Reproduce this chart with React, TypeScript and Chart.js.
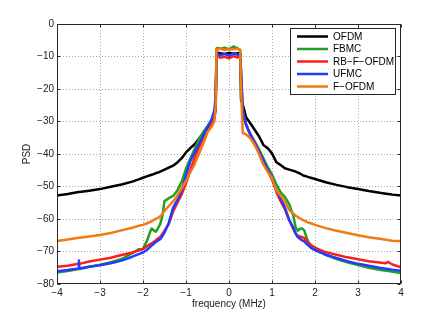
import React, { useEffect, useRef } from 'react';
import { Chart, registerables } from 'chart.js';

Chart.register(...registerables);

// frequency grid (MHz)
const freq = [
  -4, -3.75, -3.5, -3.49, -3.48, -3.25, -3, -2.75, -2.5, -2.25, -2.1, -2,
  -1.9, -1.85, -1.8, -1.75, -1.7, -1.65, -1.6, -1.55, -1.5, -1.4, -1.3, -1.2, -1.1,
  -1, -0.9, -0.8, -0.7, -0.6, -0.5, -0.4, -0.34, -0.31, -0.29,
  -0.27, -0.2, -0.1, 0, 0.1, 0.2, 0.24, 0.26, 0.28, 0.32,
  0.4, 0.5, 0.6, 0.7, 0.8, 0.9, 1, 1.1, 1.2, 1.3,
  1.4, 1.5, 1.55, 1.6, 1.65, 1.7, 1.75, 1.8, 1.85, 1.9, 2, 2.25,
  2.5, 2.75, 3, 3.25, 3.5, 3.65, 3.7, 3.75, 3.8, 4,
];

const ofdm = [
  -52.8, -52.3, -51.7, -51.7, -51.7, -51.3, -50.8, -50.1, -49.4, -48.5, -47.8, -47.3,
  -46.8, -46.6, -46.4, -46.2, -45.9, -45.7, -45.4, -45.1, -44.8, -44.2, -43.6, -42.6, -41.3,
  -39.5, -38.2, -37, -35.3, -33.6, -32.2, -30.5, -29, -26, -9,
  -8.8, -9, -9.2, -8.9, -9.1, -9, -8.9, -9, -23.5, -24.8,
  -28.8, -30.6, -32.6, -34.6, -37.2, -38.2, -39.8, -42.5, -43.4, -44.4,
  -44.8, -45.2, -45.4, -45.7, -46, -46.4, -46.7, -46.9, -47.1, -47.3, -47.7, -48.7,
  -49.5, -50.2, -50.8, -51.4, -51.9, -52.2, -52.3, -52.4, -52.5, -52.8,
];

const fbmc = [
  -76.5, -76, -75.4, -75.4, -75.4, -74.7, -74.1, -73.3, -72.3, -70.5, -69.3, -69.2,
  -66.5, -64.5, -62.9, -63.5, -63.9, -62.8, -61.6, -59.2, -54.5, -53.6, -52.9, -51.2, -48.5,
  -44.5, -41.5, -38.5, -35.5, -33.2, -31.5, -30.5, -27.5, -24, -7.5,
  -7.4, -7.6, -7.3, -7.8, -6.9, -7.5, -7.8, -8, -14, -27.5,
  -31, -34, -36.2, -38.6, -41.3, -44, -46.3, -49.3, -51.8, -53.2,
  -55.4, -59.2, -62.6, -63.6, -63, -62.9, -63.5, -65.6, -67.2, -68, -68.8, -71,
  -72.3, -73.3, -74.2, -75, -75.6, -75.9, -76, -76.1, -76.2, -76.6,
];

const rbFOfdm = [
  -74.7, -74.4, -73.8, -73.8, -73.8, -73.1, -72.5, -71.9, -71.1, -70.3, -69.7, -69.2,
  -68.3, -67.9, -67.5, -67, -66.5, -66, -65.5, -64.6, -63.6, -61.5, -57.7, -55, -52.4,
  -49, -45, -41.2, -38, -35.4, -33, -30.8, -28.5, -25, -9.8,
  -9.8, -10.4, -10.1, -10.6, -9.9, -10.3, -9.8, -10, -16, -26.5,
  -31.2, -34, -36.5, -39.4, -42.4, -45.2, -47.8, -51.6, -54.5, -57,
  -60.4, -63.2, -64.6, -65.1, -65.4, -65.6, -65.9, -66.6, -67.4, -68, -68.9, -70.2,
  -71, -71.8, -72.4, -73, -73.4, -73.6, -73.2, -73.6, -74, -74.9,
];

const ufmc = [
  -76.1, -75.7, -75.2, -72.8, -75.2, -74.7, -74.2, -73.6, -72.8, -71.6, -70.8, -70.3,
  -69.4, -68.8, -68.2, -67.6, -67.1, -66.6, -66.2, -65.3, -64.2, -61.2, -56.5, -54.2, -51.2,
  -46.5, -42.2, -39.5, -37, -34.4, -31.6, -29.2, -26.5, -22, -9.2,
  -9.3, -9.6, -9.2, -9.8, -9, -9.5, -9.4, -9.5, -15, -27,
  -31, -34.2, -36.8, -39.2, -42, -44.8, -47.4, -51.2, -53.6, -56.5,
  -60.3, -62.8, -64.4, -65.6, -66.1, -66.6, -66.9, -67.6, -68.2, -68.8, -69.6, -71,
  -72, -73, -73.8, -74.4, -75, -75.3, -75.4, -75.5, -75.6, -75.9,
];

const fOfdm = [
  -66.8, -66.3, -65.8, -65.8, -65.8, -65.4, -64.9, -64.3, -63.5, -62.7, -62.1, -61.8,
  -61.3, -61, -60.7, -60.3, -60, -59.6, -59.2, -58.5, -57.5, -56, -54.6, -52.8, -50.6,
  -48.3, -45.7, -43.1, -40, -36.8, -33.3, -31.5, -30, -25, -7.8,
  -7.8, -7.6, -8, -7.7, -7.8, -7.6, -7.8, -8, -20, -33.5,
  -34, -35.2, -37.3, -40.1, -43.3, -45.5, -47.4, -51.2, -52.8, -54.6,
  -57.2, -58.4, -59, -59.4, -59.8, -60.2, -60.5, -60.8, -61.1, -61.3, -61.8, -62.8,
  -63.6, -64.3, -65, -65.6, -66.1, -66.4, -66.5, -66.6, -66.7, -66.8,
];

const seriesLabels = ['OFDM', 'FBMC', 'RB\u2212F\u2212OFDM', 'UFMC', 'F\u2212OFDM'];
const seriesColors = ['#000000', '#22a022', '#ff1c1c', '#1f3cff', '#f27a12'];
const seriesValues = [ofdm, fbmc, rbFOfdm, ufmc, fOfdm];
const drawOrder = [4, 3, 2, 1, 0];

const xMin = -4;
const xMax = 4;
const yMin = -80;
const yMax = 0;
const xTitle = 'frequency (MHz)';
const yTitle = 'PSD';

const FONT = '"Liberation Sans", Arial, Helvetica, sans-serif';
const fmt = (v: number) => (v < 0 ? '\u2212' + Math.abs(v) : String(v));

const framePlugin = {
  id: 'matlabFrame',
  beforeDatasetsDraw(chart: any) {
    const { ctx, chartArea: a, scales } = chart;
    const xs = scales.x;
    const ys = scales.y;
    ctx.save();
    ctx.strokeStyle = '#a8a8a8';
    ctx.lineWidth = 1;
    ctx.setLineDash([1, 2]);
    xs.ticks.forEach((t: any) => {
      if (t.value <= xMin || t.value >= xMax) return;
      const px = Math.floor(xs.getPixelForValue(t.value)) + 0.5;
      ctx.beginPath();
      ctx.moveTo(px, a.top);
      ctx.lineTo(px, a.bottom);
      ctx.stroke();
    });
    ys.ticks.forEach((t: any) => {
      if (t.value <= yMin || t.value >= yMax) return;
      const py = Math.floor(ys.getPixelForValue(t.value)) + 0.5;
      ctx.beginPath();
      ctx.moveTo(a.left, py);
      ctx.lineTo(a.right, py);
      ctx.stroke();
    });
    ctx.restore();
  },
  afterDatasetsDraw(chart: any) {
    const { ctx, chartArea: a, scales } = chart;
    const xs = scales.x;
    const ys = scales.y;
    const L = a.left + 0.5;
    const R = a.right - 0.5;
    const T = a.top + 0.5;
    const B = a.bottom - 0.5;
    ctx.save();
    ctx.setLineDash([]);
    ctx.strokeStyle = '#262626';
    ctx.lineWidth = 1;
    ctx.strokeRect(L, T, R - L, B - T);
    const tl = 3;
    ctx.beginPath();
    xs.ticks.forEach((t: any) => {
      const px = Math.floor(xs.getPixelForValue(t.value)) + 0.5;
      ctx.moveTo(px, B);
      ctx.lineTo(px, B - tl);
      ctx.moveTo(px, T);
      ctx.lineTo(px, T + tl);
    });
    ys.ticks.forEach((t: any) => {
      const py = Math.floor(ys.getPixelForValue(t.value)) + 0.5;
      ctx.moveTo(L, py);
      ctx.lineTo(L + tl, py);
      ctx.moveTo(R, py);
      ctx.lineTo(R - tl, py);
    });
    ctx.stroke();

    // legend box inside plot (north-east)
    const bx = 290.5;
    const by = 28.5;
    const bw = 105;
    const bh = 66;
    ctx.fillStyle = '#ffffff';
    ctx.fillRect(bx, by, bw, bh);
    ctx.strokeStyle = '#262626';
    ctx.strokeRect(bx, by, bw, bh);
    ctx.font = '10px ' + FONT;
    ctx.textBaseline = 'middle';
    ctx.textAlign = 'left';
    chart.data.datasets.forEach((ds: any, i: number) => {
      const yy = 36.5 + i * 12.5;
      ctx.strokeStyle = ds.borderColor;
      ctx.lineWidth = 2.5;
      ctx.beginPath();
      ctx.moveTo(297, yy);
      ctx.lineTo(328, yy);
      ctx.stroke();
      ctx.fillStyle = '#000000';
      ctx.fillText(ds.label, 333, yy + 0.5);
    });
    ctx.restore();
  },
};

export default function App() {
  const ref = useRef<HTMLCanvasElement | null>(null);

  useEffect(() => {
    if (!ref.current) return;
    const datasets = seriesLabels.map((label, i) => ({
      label,
      data: freq.map((f, k) => ({ x: f, y: seriesValues[i][k] })),
      borderColor: seriesColors[i],
      backgroundColor: seriesColors[i],
      borderWidth: 2.5,
      pointRadius: 0,
      tension: 0,
      fill: false,
      borderJoinStyle: 'round' as const,
      order: drawOrder[i],
    }));
    const chart = new Chart(ref.current, {
      type: 'line',
      data: { datasets },
      options: {
        animation: false,
        responsive: false,
        devicePixelRatio: 1,
        layout: { padding: { left: 0, right: 42, top: 24, bottom: 0 } },
        plugins: { legend: { display: false }, tooltip: { enabled: false } },
        scales: {
          x: {
            type: 'linear',
            min: xMin,
            max: xMax,
            afterFit: (s: any) => {
              s.height = 34;
            },
            grid: { display: false, drawTicks: false, tickLength: 0 },
            border: { display: false },
            ticks: {
              stepSize: 1,
              padding: 3,
              color: '#1a1a1a',
              font: { family: FONT, size: 10 },
              callback: (v: any) => fmt(Number(v)),
            },
            title: {
              display: true,
              text: xTitle,
              color: '#1a1a1a',
              font: { family: FONT, size: 10 },
              padding: { top: 0, bottom: 8 },
            },
          },
          y: {
            type: 'linear',
            min: yMin,
            max: yMax,
            afterFit: (s: any) => {
              s.width = 57;
            },
            grid: { display: false, drawTicks: false, tickLength: 0 },
            border: { display: false },
            ticks: {
              stepSize: 10,
              padding: 3,
              color: '#1a1a1a',
              font: { family: FONT, size: 10 },
              callback: (v: any) => fmt(Number(v)),
            },
            title: {
              display: true,
              text: yTitle,
              color: '#1a1a1a',
              font: { family: FONT, size: 10 },
              padding: { top: 21, bottom: 0 },
            },
          },
        },
      },
      plugins: [framePlugin],
    });
    return () => chart.destroy();
  }, []);

  return (
    <div style={{ position: 'fixed', left: 0, top: 0, width: 443, height: 318, background: '#fff' }}>
      <canvas ref={ref} width={443} height={318} style={{ width: 443, height: 318, display: 'block' }} />
    </div>
  );
}
